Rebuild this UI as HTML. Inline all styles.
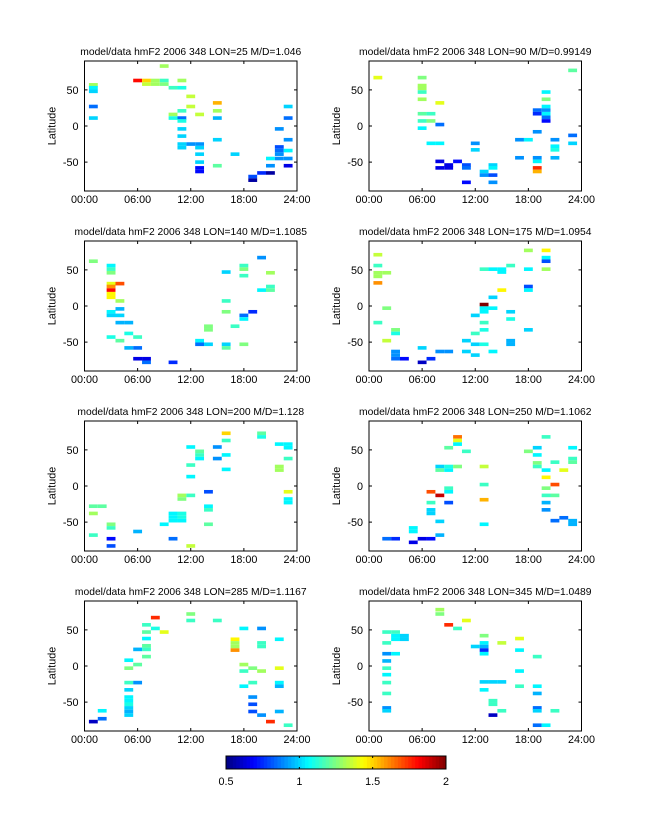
<!DOCTYPE html>
<html><head><meta charset="utf-8"><style>
body{margin:0;background:#fff;}
svg{display:block;font-family:"Liberation Sans",sans-serif;}
</style></head><body>
<svg id="fig" width="647" height="822" viewBox="0 0 647 822"></svg>
<script>
const titles=["model/data hmF2 2006 348 LON=25 M/D=1.046","model/data hmF2 2006 348 LON=90 M/D=0.99149","model/data hmF2 2006 348 LON=140 M/D=1.1085","model/data hmF2 2006 348 LON=175 M/D=1.0954","model/data hmF2 2006 348 LON=200 M/D=1.128","model/data hmF2 2006 348 LON=250 M/D=1.1062","model/data hmF2 2006 348 LON=285 M/D=1.1167","model/data hmF2 2006 348 LON=345 M/D=1.0489"];
const xTickLabels=["00:00","06:00","12:00","18:00","24:00"];
const xTicks=[0,6,12,18,24];
const yTicks=[-50,0,50];
const cbTicks=[0.5,1,1.5,2];
const cbLabels=["0.5","1","1.5","2"];
const p1=[[1,57,1.3],[1,53,1.05],[1,48,1.0],[1,27,0.85],[1,11,1.0],[6,63,1.8],[7,63,1.5],[7,58,1.35],[8,63,1.3],[8,58,1.3],[9,83,1.3],[9,63,1.15],[9,58,1.25],[10,53,1.15],[10,16,1.3],[10,11,1.1],[11,63,1.3],[11,53,1.1],[11,21,1.15],[11,11,0.85],[11,7,1.1],[11,-4,1.0],[11,-14,1.0],[11,-25,1.0],[11,-30,1.0],[12,41,1.35],[12,27,1.35],[12,-25,0.9],[13,16,1.35],[13,-25,0.9],[13,-30,1.0],[13,-39,1.0],[13,-50,1.0],[13,-58,0.7],[13,-63,0.7],[15,32,1.55],[15,21,1.3],[15,11,0.95],[15,-19,1.0],[15,-55,1.2],[17,-39,1.0],[19,-70,0.8],[19,-75,0.55],[20,-65,0.75],[21,-65,0.55],[21,-45,1.05],[21,-55,0.9],[22,-4,0.9],[22,-29,0.8],[22,-34,0.85],[22,-39,0.9],[22,-45,0.9],[23,27,1.0],[23,11,0.85],[23,-19,0.9],[23,-34,1.05],[23,-45,0.9],[23,-55,0.65]];
const p2=[[1,67,1.4],[6,67,1.25],[6,56,1.3],[6,52,1.3],[6,47,1.15],[6,37,1.3],[6,17,1.2],[6,7,1.15],[6,-3,1.05],[7,17,1.15],[7,7,1.25],[7,-24,1.05],[8,32,1.4],[8,2,0.85],[8,-24,1.05],[8,-49,0.65],[8,-58,0.65],[9,-54,0.65],[9,-58,0.65],[10,-49,0.7],[11,-54,0.8],[11,-58,0.85],[11,-78,0.7],[12,-24,0.9],[12,-33,1.0],[13,-63,1.0],[13,-68,0.9],[14,-54,1.0],[14,-58,1.05],[14,-68,0.8],[14,-78,0.9],[17,-19,0.9],[17,-44,0.9],[18,-19,1.05],[19,22,0.85],[19,17,0.75],[19,-8,0.9],[19,-44,0.9],[19,-49,1.05],[19,-58,1.75],[19,-63,1.55],[20,47,1.05],[20,37,1.25],[20,27,1.05],[20,22,0.9],[20,17,1.05],[20,12,0.85],[20,7,0.7],[21,-19,0.9],[21,-28,1.05],[21,-33,1.1],[21,-44,0.95],[23,77,1.2],[23,-13,0.85],[23,-24,1.0]];
const p3=[[1,62,1.25],[3,56,1.05],[3,51,1.15],[3,46,1.25],[3,31,1.4],[3,27,1.6],[3,22,1.8],[3,17,1.45],[3,12,1.45],[3,-8,1.05],[3,-13,1.0],[3,-43,1.1],[4,31,1.7],[4,7,1.3],[4,-4,0.95],[4,-13,1.0],[4,-23,0.95],[4,-48,1.2],[5,-23,0.95],[5,-38,1.1],[5,-58,0.95],[6,-43,1.15],[6,-58,0.85],[6,-73,0.65],[7,-73,0.65],[7,-78,0.85],[10,-78,0.75],[13,-48,1.05],[13,-53,0.85],[14,-28,1.25],[14,-33,1.25],[14,-53,1.0],[16,47,1.0],[16,7,1.15],[16,-8,1.25],[16,-53,1.0],[16,-58,1.2],[17,-28,1.15],[18,56,1.15],[18,51,1.25],[18,42,1.15],[18,-13,0.85],[18,-18,1.05],[18,-53,1.25],[19,-8,0.75],[20,67,0.9],[20,22,1.05],[21,46,1.3],[21,27,1.15],[21,22,1.2]];
const p4=[[1,71,1.35],[1,56,1.15],[1,46,1.3],[1,41,1.3],[1,32,1.6],[1,-23,1.15],[2,46,1.3],[2,-3,1.25],[2,-48,1.35],[3,-33,1.25],[3,-38,1.1],[3,-63,0.9],[3,-68,0.9],[3,-73,0.85],[4,-73,0.7],[6,-58,1.0],[6,-78,0.6],[7,-73,0.75],[8,-63,0.9],[9,-63,0.9],[11,-48,1.0],[11,-63,1.0],[12,-13,1.0],[12,-38,1.15],[12,-53,1.0],[12,-68,1.0],[13,51,1.15],[13,2,2.0],[13,-3,1.05],[13,-8,1.05],[13,-23,1.15],[13,-33,1.1],[13,-53,1.1],[14,51,1.05],[14,12,1.0],[14,-3,1.05],[14,-63,1.05],[15,51,1.05],[15,47,1.05],[15,22,1.45],[16,56,1.15],[16,-8,1.0],[16,-18,1.1],[16,-48,0.95],[16,-53,0.95],[18,77,1.3],[18,51,1.05],[18,27,0.8],[18,22,1.05],[18,-33,1.0],[20,77,1.45],[20,67,1.05],[20,62,0.8],[20,51,1.3]];
const p5=[[1,-28,1.2],[2,-28,1.2],[1,-38,1.3],[1,-68,1.15],[3,-53,1.25],[3,-58,1.15],[3,-73,0.7],[3,-83,0.8],[6,-63,0.95],[9,-53,1.05],[10,-38,1.05],[10,-43,1.05],[10,-48,1.05],[10,-73,0.85],[11,-13,1.3],[11,-18,1.25],[11,-38,1.1],[11,-43,1.1],[11,-48,1.05],[12,54,1.05],[12,29,1.15],[12,13,1.05],[12,-13,1.15],[12,-83,1.35],[13,48,1.2],[13,43,1.15],[13,38,1.05],[14,-8,0.8],[14,-28,1.05],[14,-33,1.15],[14,-53,1.2],[15,54,0.9],[15,38,0.9],[16,73,1.5],[16,63,1.15],[16,43,1.05],[16,23,1.05],[20,73,1.2],[20,68,1.1],[22,58,1.05],[22,27,1.3],[22,22,1.3],[23,58,1.05],[23,53,1.05],[23,38,1.15],[23,-8,1.4],[23,-18,1.05],[23,-23,1.05]];
const p6=[[2,-73,0.85],[3,-73,0.75],[5,-58,1.05],[5,-63,1.05],[5,-78,0.65],[6,-73,0.65],[7,-8,1.7],[7,-23,1.15],[7,-33,1.0],[7,-38,1.0],[7,-73,0.7],[8,27,1.0],[8,22,1.2],[8,-13,1.9],[8,-49,1.0],[8,-68,0.95],[9,53,1.2],[9,27,1.1],[9,22,1.05],[9,-3,1.15],[9,-8,1.05],[9,-23,0.8],[10,68,1.65],[10,63,1.4],[10,58,1.05],[10,27,1.25],[11,48,1.15],[13,27,1.35],[13,2,1.15],[13,-19,1.55],[13,-53,1.05],[18,48,1.25],[19,53,1.0],[19,43,1.05],[19,32,1.25],[19,27,1.15],[20,68,1.15],[20,22,1.05],[20,12,1.45],[20,-3,1.25],[20,-13,1.15],[20,-23,0.95],[20,-33,0.9],[21,33,1.15],[21,2,1.7],[21,-13,1.2],[21,-48,0.85],[22,22,1.4],[22,-44,0.85],[23,53,1.05],[23,38,1.15],[23,33,1.2],[23,-48,0.95],[23,-53,0.95]];
const p7=[[1,-77,0.6],[2,-62,1.05],[2,-73,0.85],[5,8,1.05],[5,-3,1.25],[5,-23,1.15],[5,-33,1.0],[5,-43,1.05],[5,-48,1.05],[5,-53,1.1],[5,-58,1.0],[5,-63,0.95],[5,-68,1.0],[6,23,0.95],[6,2,1.2],[6,-23,0.9],[7,57,1.15],[7,47,1.2],[7,38,1.05],[7,28,1.2],[7,23,1.15],[7,13,1.2],[8,67,1.75],[8,52,1.1],[9,47,1.4],[12,72,1.25],[12,63,1.15],[15,63,1.15],[17,37,1.45],[17,32,1.3],[17,27,1.3],[17,22,1.6],[18,52,1.05],[18,2,1.3],[18,-7,1.15],[18,-28,1.05],[19,-3,1.25],[19,-23,1.15],[19,-43,0.9],[19,-53,0.8],[19,-63,0.8],[20,52,0.9],[20,32,1.15],[20,27,1.15],[20,-7,1.3],[20,-68,0.9],[21,-77,1.75],[22,37,1.05],[22,-3,1.4],[22,-23,1.05],[22,-28,0.95],[22,-63,0.95],[23,-82,1.15]];
const p8=[[2,47,1.15],[2,32,1.15],[2,17,0.9],[2,7,0.95],[2,-3,1.15],[2,-12,1.05],[2,-23,1.15],[2,-38,1.15],[2,-58,0.9],[2,-62,1.0],[3,47,1.15],[3,42,1.05],[3,37,1.05],[3,17,1.05],[4,42,1.0],[4,37,1.0],[8,78,1.3],[8,72,1.25],[9,57,1.75],[10,52,1.15],[11,63,1.4],[12,27,1.0],[13,42,1.25],[13,32,1.05],[13,27,0.95],[13,22,0.75],[13,17,1.05],[13,-22,1.0],[13,-33,1.05],[14,-22,1.0],[14,-48,1.15],[14,-53,1.15],[14,-68,0.6],[15,32,1.35],[15,-22,1.0],[15,-62,1.15],[17,38,1.4],[17,22,1.05],[17,-7,1.05],[17,-28,1.15],[19,13,1.15],[19,-28,1.05],[19,-38,0.95],[19,-58,0.85],[19,-62,1.0],[19,-82,0.85],[20,-82,1.05],[21,-62,1.15]];
const panelsData=[p1,p2,p3,p4,p5,p6,p7,p8];
const cmin=0.5,cmax=2;
const NS="http://www.w3.org/2000/svg";
const svg=document.getElementById('fig');
function mk(tag,attrs,parent){const e=document.createElementNS(NS,tag);for(const k in attrs)e.setAttribute(k,attrs[k]);(parent||svg).appendChild(e);return e;}
function clamp(v){return Math.max(0,Math.min(1,v));}
function jet(v){const t=clamp((v-cmin)/(cmax-cmin));const r=clamp(1.5-Math.abs(4*t-3)),g=clamp(1.5-Math.abs(4*t-2)),b=clamp(1.5-Math.abs(4*t-1));return `rgb(${Math.round(r*255)},${Math.round(g*255)},${Math.round(b*255)})`;}
const W=212.5,H=130;
panelsData.forEach((data,i)=>{
  const col=i%2,row=Math.floor(i/2);
  const L=col?369:84.5,T=61+row*180;
  const xs=h=>L+h/24*W, ys=lat=>T+H/2-lat/180*H;
  const g=mk('g',{});
  
  
  const t=mk('text',{x:L+W/2,y:T-6,'text-anchor':'middle','font-size':'10.3'},g);t.textContent=titles[i];
  
  data.forEach(d=>{
    const r=mk('rect',{x:xs(d[0]-0.5),y:ys(d[1]+2.5),width:xs(1)-xs(0),height:ys(-2.5)-ys(2.5),fill:jet(d[2])},g);
    
    
  });
  const f=mk('rect',{x:L,y:T,width:W,height:H,fill:'none',stroke:'#000','stroke-width':1},g);
  
  xTicks.forEach((v,k)=>{
    const x=xs(v);
    mk('line',{x1:x,y1:T+H,x2:x,y2:T+H-3,stroke:'#000'},g);
    mk('line',{x1:x,y1:T,x2:x,y2:T+3,stroke:'#000'},g);
    const tl=mk('text',{x:x,y:T+H+12,'text-anchor':'middle','font-size':'10.8'},g);tl.textContent=xTickLabels[k];
    
  });
  yTicks.forEach(v=>{
    const y=ys(v);
    mk('line',{x1:L,y1:y,x2:L+3,y2:y,stroke:'#000'},g);
    mk('line',{x1:L+W,y1:y,x2:L+W-3,y2:y,stroke:'#000'},g);
    const tl=mk('text',{x:L-6,y:y+4,'text-anchor':'end','font-size':'10.8'},g);tl.textContent=String(v);
    
  });
  const yl=mk('text',{x:0,y:0,'text-anchor':'middle','font-size':'10.8',transform:`translate(${L-29},${T+H/2}) rotate(-90)`},g);yl.textContent='Latitude';
  
});
const cb=mk('g',{});

const CL=226,CR=446,CT=756,CB=769;
const cs=v=>CL+(v-cmin)/(cmax-cmin)*(CR-CL);
for(let k=0;k<64;k++){const v=cmin+(k+0.5)/64*(cmax-cmin);mk('rect',{x:CL+k*(CR-CL)/64,y:CT,width:(CR-CL)/64+0.4,height:CB-CT,fill:jet(v)},cb);}
mk('rect',{x:CL,y:CT,width:CR-CL,height:CB-CT,fill:'none',stroke:'#000'},cb);
cbTicks.forEach((v,k)=>{const x=cs(v);mk('line',{x1:x,y1:CT,x2:x,y2:CT+2,stroke:'#000'},cb);mk('line',{x1:x,y1:CB,x2:x,y2:CB-2,stroke:'#000'},cb);
  const tl=mk('text',{x:x,y:CB+16,'text-anchor':'middle','font-size':'10.8'},cb);tl.textContent=cbLabels[k];
  });
</script>
</body></html>
